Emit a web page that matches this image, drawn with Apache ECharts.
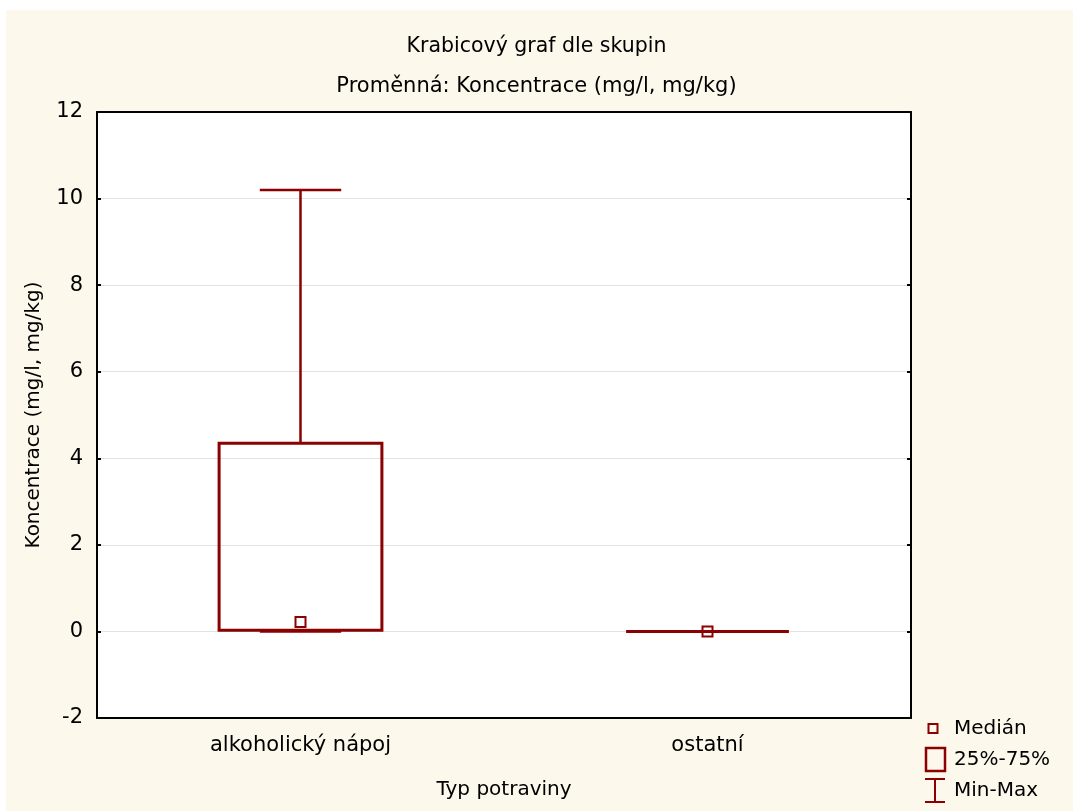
<!DOCTYPE html>
<html>
<head>
<meta charset="utf-8">
<script src="https://cdn.jsdelivr.net/npm/echarts@6/dist/echarts.min.js"></script>
<style>
  html, body { margin: 0; padding: 0; background: #ffffff; }
  #chart { width: 1073px; height: 811px; }
</style>
</head>
<body>
<div id="chart"></div>
<script>
// Box plot of concentration by food type
const categories = ['alkoholický nápoj', 'ostatní'];
const minValues = [0, 0];
const q1Values = [0.03, 0];
const medianValues = [0.22, 0];
const q3Values = [4.35, 0];
const maxValues = [10.2, 0];
const yTicks = [-2, 0, 2, 4, 6, 8, 10, 12];

const FONT = 'DejaVu Sans';
const RED = '#8b0000';
const PAPER = '#fdf8ec';

const rows = categories.map((c, i) => [i, minValues[i], q1Values[i], medianValues[i], q3Values[i], maxValues[i]]);

function renderBox(params, api) {
  const i = api.value(0);
  const band = api.size([1, 0])[0];
  const boxW = band * 0.4;
  const capW = band * 0.2;
  const pMin = api.coord([i, api.value(1)]);
  const pQ1 = api.coord([i, api.value(2)]);
  const pMed = api.coord([i, api.value(3)]);
  const pQ3 = api.coord([i, api.value(4)]);
  const pMax = api.coord([i, api.value(5)]);
  const cx = pMed[0];
  const lineStyle = { stroke: RED, lineWidth: 2.5, fill: null };
  const children = [
    { type: 'line', shape: { x1: cx, y1: pQ3[1], x2: cx, y2: pMax[1] }, style: lineStyle },
    { type: 'line', shape: { x1: cx, y1: pQ1[1], x2: cx, y2: pMin[1] }, style: lineStyle },
    { type: 'line', shape: { x1: cx - capW / 2, y1: pMax[1], x2: cx + capW / 2, y2: pMax[1] }, style: lineStyle },
    { type: 'line', shape: { x1: cx - capW / 2, y1: pMin[1], x2: cx + capW / 2, y2: pMin[1] }, style: lineStyle },
    { type: 'rect', shape: { x: cx - boxW / 2, y: pQ3[1], width: boxW, height: pQ1[1] - pQ3[1] },
      style: { stroke: RED, lineWidth: 3, fill: null } },
    { type: 'rect', shape: { x: cx - 5, y: pMed[1] - 5, width: 10, height: 10 },
      style: { stroke: RED, lineWidth: 2, fill: null } }
  ];
  return { type: 'group', children: children };
}

const chart = echarts.init(document.getElementById('chart'), null, { renderer: 'canvas' });

const tickText = { fontFamily: FONT, color: '#000', fontSize: 21 };
const nameText = { fontFamily: FONT, color: '#000', fontSize: 20 };
const legendFont = '20px "DejaVu Sans"';

chart.setOption({
  backgroundColor: '#ffffff',
  animation: false,
  title: [
    { text: 'Krabicový graf dle skupin', left: 'center', top: 31,
      textStyle: { fontFamily: FONT, fontSize: 20.5, fontWeight: 'normal', color: '#000' } },
    { text: 'Proměnná: Koncentrace (mg/l, mg/kg)', left: 'center', top: 71,
      textStyle: { fontFamily: FONT, fontSize: 21, fontWeight: 'normal', color: '#000' } }
  ],
  graphic: [
    { type: 'rect', z: -10, silent: true, shape: { x: 6, y: 10, width: 1067, height: 801 }, style: { fill: PAPER } },
    // legend
    { type: 'rect', shape: { x: 928.5, y: 724, width: 9, height: 9 }, style: { stroke: RED, lineWidth: 2, fill: null } },
    { type: 'text', x: 954, y: 729, style: { text: 'Medián', font: legendFont, fill: '#000', verticalAlign: 'middle' } },
    { type: 'rect', shape: { x: 926, y: 748, width: 19, height: 23 }, style: { stroke: RED, lineWidth: 2.5, fill: null } },
    { type: 'text', x: 954, y: 760, style: { text: '25%-75%', font: legendFont, fill: '#000', verticalAlign: 'middle' } },
    { type: 'line', shape: { x1: 925, y1: 779, x2: 945, y2: 779 }, style: { stroke: RED, lineWidth: 2 } },
    { type: 'line', shape: { x1: 935, y1: 779, x2: 935, y2: 802 }, style: { stroke: RED, lineWidth: 2 } },
    { type: 'line', shape: { x1: 925, y1: 802, x2: 945, y2: 802 }, style: { stroke: RED, lineWidth: 2 } },
    { type: 'text', x: 954, y: 791, style: { text: 'Min-Max', font: legendFont, fill: '#000', verticalAlign: 'middle' } }
  ],
  grid: {
    left: 97, right: 162, top: 112, bottom: 93,
    show: true, backgroundColor: '#ffffff', borderWidth: 0
  },
  xAxis: [
    {
      type: 'category', data: categories, position: 'bottom',
      axisLine: { onZero: false, lineStyle: { color: '#000', width: 2 } },
      axisTick: { inside: true, length: 4, alignWithLabel: true, lineStyle: { color: '#000', width: 2 } },
      axisLabel: Object.assign({ margin: 17 }, tickText),
      name: 'Typ potraviny', nameLocation: 'middle', nameGap: 62,
      nameTextStyle: nameText
    },
    {
      type: 'category', data: categories, position: 'top',
      axisLine: { onZero: false, lineStyle: { color: '#000', width: 2 } },
      axisTick: { inside: true, length: 4, alignWithLabel: true, lineStyle: { color: '#000', width: 2 } },
      axisLabel: { show: false }
    }
  ],
  yAxis: [
    {
      type: 'value', min: yTicks[0], max: yTicks[yTicks.length - 1], interval: 2,
      axisLine: { show: true, onZero: false, lineStyle: { color: '#000', width: 2 } },
      axisTick: { show: true, inside: true, length: 4, lineStyle: { color: '#000', width: 2 } },
      axisLabel: Object.assign({ margin: 14 }, tickText),
      splitLine: { show: true, lineStyle: { color: '#e2e2e2', width: 1 } },
      name: 'Koncentrace (mg/l, mg/kg)', nameLocation: 'middle', nameGap: 53, nameRotate: 90,
      nameTextStyle: nameText
    },
    {
      type: 'value', position: 'right', min: yTicks[0], max: yTicks[yTicks.length - 1], interval: 2,
      axisLine: { show: true, onZero: false, lineStyle: { color: '#000', width: 2 } },
      axisTick: { show: true, inside: true, length: 4, lineStyle: { color: '#000', width: 2 } },
      axisLabel: { show: false },
      splitLine: { show: false }
    }
  ],
  series: [
    {
      type: 'custom',
      xAxisIndex: 0, yAxisIndex: 0,
      renderItem: renderBox,
      encode: { x: 0, y: [1, 2, 3, 4, 5] },
      data: rows,
      z: 5
    }
  ]
});
</script>
</body>
</html>
